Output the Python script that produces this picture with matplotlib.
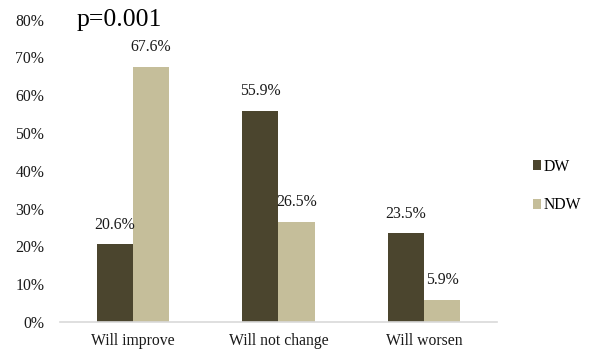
import matplotlib
matplotlib.use("Agg")
import matplotlib.pyplot as plt
import numpy as np

## Data

categories = ["Will improve", "Will not change", "Will worsen"]
dw = [20.6, 55.9, 23.5]
ndw = [67.6, 26.5, 5.9]
yticks = [0, 10, 20, 30, 40, 50, 60, 70, 80]

plt.rcParams["font.family"] = ["Liberation Serif", "DejaVu Serif"]

fig = plt.figure(figsize=(5.9, 3.54), dpi=100)
ax = fig.add_axes([0.102, 0.0904, 0.740, 0.854])

x = np.arange(len(categories))
w = 0.25
b1 = ax.bar(x - w/2, dw, w, color="#4b452e", label="DW")
b2 = ax.bar(x + w/2, ndw, w, color="#c5be9a", label="NDW")

fs = 11.3
for bars, vals in ((b1, dw), (b2, ndw)):
    for bar, v in zip(bars, vals):
        ax.annotate("%.1f%%" % v, (bar.get_x() + bar.get_width()/2, v),
                    xytext=(0, 14), textcoords="offset points",
                    ha="center", va="center", fontsize=fs, color="#1a1a1a")

ax.set_xlim(-0.5, 2.5)
ax.set_ylim(0, 80)
ax.set_yticks(yticks)
ax.set_yticklabels(["%d%%" % t for t in yticks])
ax.set_xticks(x)
ax.set_xticklabels(categories)
ax.tick_params(axis="both", length=0, labelsize=fs, colors="#1a1a1a")
ax.tick_params(axis="y", pad=11.5)
ax.tick_params(axis="x", pad=8)
for s in ("top", "right", "left"):
    ax.spines[s].set_visible(False)
ax.spines["bottom"].set_color("#d9d9d9")
ax.spines["bottom"].set_linewidth(1.2)

fig.text(0.13, 0.944, "p=0.001", fontsize=18.5, va="center", ha="left")

leg = ax.legend(loc="center left", bbox_to_anchor=(1.05, 0.45), frameon=False,
                handlelength=0.55, handleheight=0.55, handletextpad=0.15,
                labelspacing=1.45, fontsize=fs)

fig.savefig("out.png", dpi=100)
